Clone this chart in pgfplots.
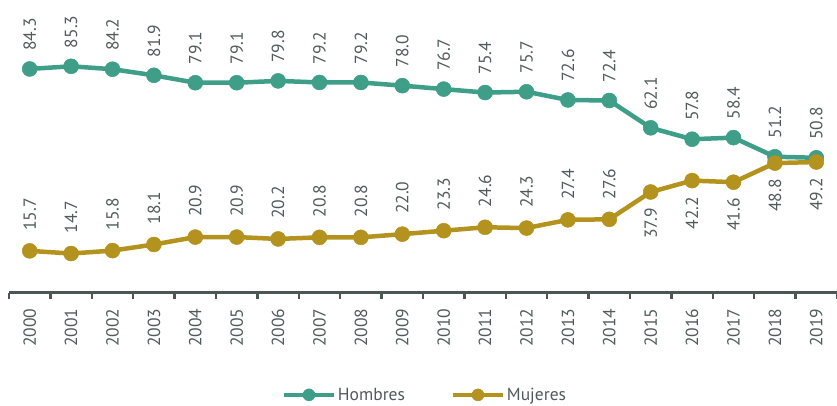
\documentclass[border=0pt]{standalone}
\usepackage{fontspec}
\setmainfont{PT Sans}
\usepackage{pgfplots}
\pgfplotsset{compat=1.18}
\definecolor{cTeal}{HTML}{3E9E88}
\definecolor{cGold}{HTML}{B3931E}
\definecolor{cText}{HTML}{515A5A}
\definecolor{cAxis}{HTML}{4D5656}

\begin{document}
\begin{tikzpicture}
\begin{axis}[scale only axis,width=828pt,height=292.5pt,
    xmin=-0.5,xmax=19.5,ymin=0,ymax=110.3,clip=false,
    axis x line*=bottom,hide y axis,
    x axis line style={cAxis,line width=2.5pt},
    xtick={0,...,19},major tick length=0pt,
    xticklabels={2000,2001,2002,2003,2004,2005,2006,2007,2008,2009,2010,2011,2012,2013,2014,2015,2016,2017,2018,2019},
    xticklabel style={rotate=90,anchor=east,inner xsep=16pt,text=cText,font=\fontsize{17.5}{19}\selectfont},
    extra x ticks={-0.5,0.5,...,19.5},extra x tick labels={},
    extra x tick style={tick align=outside,major tick length=6pt,tick style={cAxis,line width=2.5pt}},
    /pgf/number format/.cd,fixed,fixed zerofill,precision=1,assume math mode=true,/pgfplots/.cd,
    nodes near coords style={rotate=90,text=cText,font=\fontsize{17.5}{19}\selectfont},
    legend columns=2,
    legend style={draw=none,fill=none,at={(0.5024,-0.35)},anchor=center,
        font=\fontsize{17.5}{19}\selectfont,text=cText,inner sep=1pt,
        /tikz/every even column/.append style={column sep=44pt}},
    legend image code/.code={\draw[mark repeat=2,mark phase=2,line width=4pt,mark size=6pt,mark options={line width=0.5pt}] plot coordinates {(0pt,0pt)(25pt,0pt)(50pt,0pt)};},
]
\addplot[cTeal,line width=4.5pt,mark=*,mark size=7.5pt,mark options={line width=0.5pt},
    nodes near coords,nodes near coords style={anchor=west,inner xsep=18pt}]
  coordinates {(0,84.3)(1,85.3)(2,84.2)(3,81.9)(4,79.1)(5,79.1)(6,79.8)(7,79.2)(8,79.2)(9,78.0)
    (10,76.7)(11,75.4)(12,75.7)(13,72.6)(14,72.4)(15,62.1)(16,57.8)(17,58.4)(18,51.2)(19,50.8)};
\addlegendentry{Hombres}
\addplot[cGold,line width=4.5pt,mark=*,mark size=7.5pt,mark options={line width=0.5pt}]
  coordinates {(0,15.7)(1,14.7)(2,15.8)(3,18.1)(4,20.9)(5,20.9)(6,20.2)(7,20.8)(8,20.8)(9,22.0)
    (10,23.3)(11,24.6)(12,24.3)(13,27.4)(14,27.6)(15,37.9)(16,42.2)(17,41.6)(18,48.8)(19,49.2)};
\addlegendentry{Mujeres}
% etiquetas de Mujeres: encima hasta 2014, debajo desde 2015
\addplot[draw=none,forget plot,nodes near coords,nodes near coords style={anchor=west,inner xsep=20pt}]
  coordinates {(0,15.7)(1,14.7)(2,15.8)(3,18.1)(4,20.9)(5,20.9)(6,20.2)(7,20.8)(8,20.8)(9,22.0)
    (10,23.3)(11,24.6)(12,24.3)(13,27.4)(14,27.6)};
\addplot[draw=none,forget plot,nodes near coords,nodes near coords style={anchor=east,inner xsep=16pt}]
  coordinates {(15,37.9)(16,42.2)(17,41.6)(18,48.8)(19,49.2)};
\end{axis}
\pgfresetboundingbox
\useasboundingbox (-9pt,-112.5pt) rectangle (828pt,292.5pt);
\end{tikzpicture}
\end{document}
